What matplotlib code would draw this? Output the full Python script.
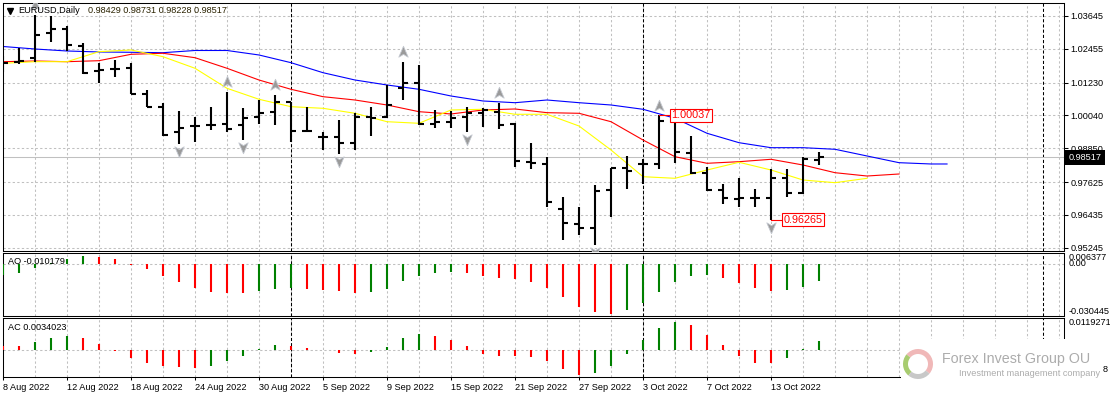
import matplotlib
matplotlib.use("Agg")
import matplotlib.pyplot as plt
import matplotlib.patches as mpatch
from matplotlib.lines import Line2D
from matplotlib.path import Path
import numpy as np

# ---- data (8 Aug - 18 Oct 2022) ----
opens = [1.0169, 1.0198, 1.0212, 1.0303, 1.0317, 1.0256, 1.0165, 1.0172, 1.0176, 1.0082,
         1.0035, 0.9944, 0.9966, 0.9969, 0.9973, 0.9969, 0.9998, 1.0016, 1.0053, 0.9948,
         0.9926, 0.9926, 0.9904, 0.9998, 0.9998, 1.0103, 1.0122, 0.9973, 0.9980, 0.9998,
         1.0013, 1.0016, 0.9973, 0.9835, 0.9828, 0.9665, 0.9610, 0.9596, 0.9734, 0.9813,
         0.9828, 0.9828, 0.9984, 0.9868, 0.9795, 0.9734, 0.9701, 0.9705, 0.9705, 0.9777,
         0.9723, 0.98429]
highs = [1.0220, 1.0249, 1.0368, 1.0365, 1.0328, 1.0267, 1.0194, 1.0205, 1.0194, 1.0096,
         1.0049, 1.0020, 0.9998, 1.0035, 1.0089, 1.0031, 1.0060, 1.0078, 1.0053, 1.0035,
         0.9944, 0.9987, 1.0013, 1.0035, 1.0114, 1.0198, 1.0187, 1.0024, 1.0020, 1.0035,
         1.0031, 1.0049, 0.9977, 0.9904, 0.9853, 0.9708, 0.9672, 0.9752, 0.9813, 0.9857,
         0.9846, 1.00037, 0.9998, 0.9929, 0.9817, 0.9755, 0.9777, 0.9737, 0.9810, 0.9810,
         0.9853, 0.98731]
lows = [1.0161, 1.0191, 1.0198, 1.0270, 1.0238, 1.0154, 1.0122, 1.0143, 1.0082, 1.0035,
        0.9929, 0.9900, 0.9908, 0.9951, 0.9944, 0.9915, 0.9973, 0.9969, 0.9908, 0.9944,
        0.9879, 0.9864, 0.9879, 0.9929, 0.9995, 1.0060, 0.9969, 0.9958, 0.9958, 0.9944,
        0.9962, 0.9955, 0.9817, 0.9810, 0.9672, 0.9552, 0.9570, 0.9534, 0.9636, 0.9737,
        0.9755, 0.9810, 0.9831, 0.9792, 0.9730, 0.9683, 0.9672, 0.9672, 0.96265, 0.9708,
        0.9719, 0.98228]
closes = [1.0194, 1.0201, 1.0296, 1.0317, 1.0259, 1.0158, 1.0169, 1.0172, 1.0082, 1.0035,
          0.9933, 0.9958, 0.9966, 0.9969, 0.9955, 0.9995, 1.0013, 1.0053, 0.9948, 0.9948,
          0.9926, 0.9904, 0.9998, 0.9995, 1.0042, 1.0122, 0.9973, 0.9980, 0.9995, 1.0013,
          1.0024, 0.9969, 0.9839, 0.9831, 0.9690, 0.9614, 0.9596, 0.9730, 0.9813, 0.9802,
          0.9828, 0.9984, 0.9871, 0.9795, 0.9734, 0.9705, 0.9705, 0.9705, 0.9777, 0.9723,
          0.9846, 0.98517]

# alligator lines, sampled every second bar (shifted into the future)
jaw_idx = list(range(0, 60, 2)) + [59]
jaw = [1.02539, 1.02448, 1.02376, 1.02340, 1.02329, 1.02314, 1.02394, 1.02394, 1.02231, 1.01952,
       1.01589, 1.01324, 1.01143, 1.00987, 1.00744, 1.00563, 1.00501, 1.00599, 1.00501, 1.00418,
       1.00262, 0.99936, 0.99392, 0.99051, 0.98870, 0.98870, 0.98812, 0.98569, 0.98326, 0.98279,
       0.98279]
teeth_idx = list(range(0, 57, 2))
teeth = [1.01988, 1.02013, 1.01988, 1.02024, 1.02256, 1.02293, 1.02133, 1.01749, 1.01324, 1.00987,
         1.00719, 1.00599, 1.00418, 1.00175, 1.00092, 1.00237, 1.00273, 1.00139, 1.00117, 0.99812,
         0.99149, 0.98543, 0.98304, 0.98362, 0.98449, 0.98242, 0.97963, 0.97843, 0.97916]
lips_idx = list(range(0, 55, 2))
lips = [1.01930, 1.01988, 1.01988, 1.02351, 1.02412, 1.02169, 1.01749, 1.01023, 1.00625, 1.00356,
        1.00298, 1.00117, 0.99812, 0.99754, 1.00237, 1.00262, 1.00081, 1.00081, 0.99656, 0.98786,
        0.97818, 0.97760, 0.98061, 0.98340, 0.98061, 0.97698, 0.97601, 0.97760]

fractal_up = [2, 14, 17, 25, 31, 41]
fractal_down = [11, 15, 21, 29, 37, 48]
marked_high = 41
marked_low = 48

ao = [-0.0064, -0.0054, -0.0023, 0.0003, 0.0027, 0.0047, 0.0043, 0.0029, -0.0006, -0.0031,
      -0.0070, -0.0103, -0.0139, -0.0162, -0.0168, -0.0169, -0.0156, -0.0144, -0.0143, -0.0145,
      -0.0152, -0.0158, -0.0168, -0.0162, -0.0144, -0.0098, -0.0068, -0.0051, -0.0045, -0.0051,
      -0.0068, -0.0080, -0.0086, -0.0103, -0.0139, -0.0191, -0.0250, -0.0279, -0.0291, -0.0267,
      -0.0226, -0.0162, -0.0103, -0.0068, -0.0067, -0.0080, -0.0109, -0.0139, -0.0156, -0.0154,
      -0.0133, -0.010179]
ac = [0.0015, 0.0014, 0.0030, 0.0045, 0.0053, 0.0045, 0.0023, -0.0003, -0.0030, -0.0048,
      -0.0060, -0.0064, -0.0068, -0.0060, -0.0041, -0.0023, 0.0004, 0.0019, 0.0015, 0.0008,
      0.0001, -0.0011, -0.0015, -0.0008, 0.0011, 0.0045, 0.0060, 0.0053, 0.0038, 0.0015,
      -0.0015, -0.0023, -0.0024, -0.0026, -0.0041, -0.0071, -0.0094, -0.0087, -0.0060, -0.0015,
      0.0038, 0.0083, 0.0105, 0.0094, 0.0056, 0.0019, -0.0023, -0.0049, -0.0050, -0.0030,
      0.0004, 0.0034023]
ao_first_up = True
ac_first_up = False

price_ticks = [1.03645, 1.02455, 1.01230, 1.00040, 0.98850, 0.97625, 0.96435, 0.95245]
ao_range = (-0.030445, 0.006377)
ac_range = (-0.010158, 0.0119271)
date_idx = [0, 4, 8, 12, 16, 20, 24, 28, 32, 36, 40, 44, 48]
date_labels = ["8 Aug 2022", "12 Aug 2022", "18 Aug 2022", "24 Aug 2022", "30 Aug 2022",
               "5 Sep 2022", "9 Sep 2022", "15 Sep 2022", "21 Sep 2022", "27 Sep 2022",
               "3 Oct 2022", "7 Oct 2022", "13 Oct 2022"]
month_seps = [18, 40, 65]

# ---- figure ----
W, H = 1110, 398
plt.rcParams['font.family'] = ['Liberation Sans', 'DejaVu Sans']
plt.rcParams['font.size'] = 6.6

fig = plt.figure(figsize=(W / 100, H / 100), dpi=100)


def px_axes(x0, y0, x1, y1):
    return fig.add_axes([x0 / W, 1 - y1 / H, (x1 - x0) / W, (y1 - y0) / H])


def px_text(x, y, s, **kw):
    return fig.text(x / W, 1 - y / H, s, **kw)


ax = px_axes(2.5, 2.5, 1064, 251)
ax_ao = px_axes(2.5, 253, 1064, 316)
ax_ac = px_axes(2.5, 318.3, 1064, 377)

XLIM = (-0.03, 66.31)
GRID = dict(colors='#c0c0c0', linestyles=(0, (2.2, 2.2)), lw=0.75, zorder=0)
SEP = dict(colors='black', linestyles=(0, (3, 2)), lw=0.75, zorder=1)

ax.set_ylim(0.95124, 1.04134)
ax_ao.set_ylim(*ao_range)
ax_ac.set_ylim(*ac_range)

for a in (ax, ax_ao, ax_ac):
    a.set_xlim(*XLIM)
    for s in a.spines.values():
        s.set_linewidth(0.75)
        s.set_color('black')
    lo, hi = a.get_ylim()
    a.vlines(np.arange(0, 67, 2), lo, hi, **GRID)
    a.vlines(month_seps, lo, hi, **SEP)
    a.set_xticks([])
    a.set_yticks([])

# main price panel
idx = np.arange(len(opens))
ax.hlines(price_ticks, *XLIM, **GRID)
ax.axhline(closes[-1], color='#c0c0c0', lw=0.75, zorder=1)

ax.plot(jaw_idx, jaw, color='#0000ff', lw=0.8, zorder=2)
ax.plot(teeth_idx, teeth, color='#ff0000', lw=0.8, zorder=2)
ax.plot(lips_idx, lips, color='#ffff00', lw=0.8, zorder=2)

BAR = dict(colors='black', lw=1.5, zorder=3, capstyle='butt')
ax.vlines(idx, lows, highs, **BAR)
ax.hlines(opens, idx - 0.33, idx, **BAR)
ax.hlines(closes, idx, idx + 0.33, **BAR)

up_arrow = Path([(0, 1), (0.75, -0.75), (0, -0.3), (-0.75, -0.75), (0, 1)],
                [Path.MOVETO, Path.LINETO, Path.LINETO, Path.LINETO, Path.CLOSEPOLY])
down_arrow = Path([(0, -1), (0.75, 0.75), (0, 0.3), (-0.75, 0.75), (0, -1)],
                  [Path.MOVETO, Path.LINETO, Path.LINETO, Path.LINETO, Path.CLOSEPOLY])
ax.plot(fractal_up, [highs[i] + 0.0036 for i in fractal_up], ls='none', marker=up_arrow,
        ms=9, mfc='#9a9a9a', mec='#c4c8d0', mew=0.6, zorder=4, clip_on=True)
ax.plot(fractal_down, [lows[i] - 0.0026 for i in fractal_down], ls='none', marker=down_arrow,
        ms=9, mfc='#9a9a9a', mec='#c4c8d0', mew=0.6, zorder=4, clip_on=True)

for i, val in ((marked_high, highs[marked_high]), (marked_low, lows[marked_low])):
    ax.plot([i, i + 0.7], [val, val], color='#ff0000', lw=0.8, zorder=4)
    ax.text(i + 0.76, val, f"{val:.5f}", color='#ff0000', fontsize=7.8, ha='left',
            va='center', zorder=5,
            bbox=dict(boxstyle='square,pad=0.12', fc='white', ec='#ff0000', lw=0.8))

ax.yaxis.tick_right()
ax.set_yticks(price_ticks)
ax.set_yticklabels([f"{p:.5f}" for p in price_ticks])
ax.tick_params(axis='y', length=3, width=0.75, pad=1.5, labelsize=6.6)
ax.text(1.0043, closes[-1], f"{closes[-1]:.5f}", transform=ax.get_yaxis_transform(),
        color='white', ha='left', va='center', fontsize=6.6, zorder=6, clip_on=False,
        bbox=dict(boxstyle='square,pad=0.35', fc='black', ec='none'))

# header
fig.add_artist(Line2D([10 / W], [1 - 10.5 / H], marker='v', ms=4.5, color='black',
                      transform=fig.transFigure))
px_text(18, 10.7, "EURUSD,Daily", va='center', ha='left')
px_text(88, 10.7, f"{opens[-1]:.5f} {highs[-1]:.5f} {lows[-1]:.5f} {closes[-1]:.5f}",
        va='center', ha='left', color='#2a2200')

# AO panel
ao_up = np.r_[ao_first_up, np.diff(ao) > 0]
ax_ao.axhline(0, color='#c0c0c0', lw=0.75, ls=(0, (2.2, 2.2)), zorder=0)
ax_ao.vlines(idx, 0, ao, colors=np.where(ao_up, '#008000', '#ff0000'), lw=1.5, zorder=3)
px_text(7.5, 261.5, f"AO {ao[-1]:.6f}", va='center', ha='left')
t = ax_ao.get_yaxis_transform()
rx = 1 + 4.5 / 1061.5
ax_ao.text(rx, ao_range[1], f"{ao_range[1]:.6f}", transform=t, va='top', ha='left', clip_on=False)
ax_ao.text(rx, 0, "0.00", transform=t, va='center', ha='left', clip_on=False)
ax_ao.text(rx, ao_range[0], f"{ao_range[0]:.6f}", transform=t, va='bottom', ha='left',
           clip_on=False)

# AC panel
ac_up = np.r_[ac_first_up, np.diff(ac) > 0]
ax_ac.axhline(0, color='#c0c0c0', lw=0.75, ls=(0, (2.2, 2.2)), zorder=0)
ax_ac.vlines(idx, 0, ac, colors=np.where(ac_up, '#008000', '#ff0000'), lw=1.5, zorder=3)
px_text(7.5, 327.5, f"AC {ac[-1]:.7f}", va='center', ha='left')
t = ax_ac.get_yaxis_transform()
ax_ac.text(rx, ac_range[1], f"{ac_range[1]:.7f}", transform=t, va='top', ha='left', clip_on=False)
# only the last digit of the lower AC label peeks out from under the watermark
px_text(1103, 369, f"{ac_range[0]:.6f}"[-1], va='center', ha='left')

ax_ac.set_xticks(date_idx)
ax_ac.set_xticklabels(date_labels, ha='left')
ax_ac.tick_params(axis='x', length=2.5, width=0.75, pad=1.5, labelsize=6.6)

# watermark
fig.add_artist(mpatch.Rectangle((901 / W, 1 - 388 / H), 201 / W, 49 / H, transform=fig.transFigure,
                                fc='white', ec='none', zorder=5))
cx, cy = 9.18, (H - 364) / 100
for t1, t2, col in ((-40, 140, '#f0b8b8'), (140, 230, '#a8cc70'), (230, 320, '#c8c8c8')):
    fig.add_artist(mpatch.Wedge((cx, cy), 0.15, t1, t2, width=0.05, fc=col, ec='none',
                                transform=fig.dpi_scale_trans, zorder=6))
px_text(942, 359, "Forex Invest Group OU", fontsize=10.3, color='#acacac', ha='left',
        va='center', zorder=7)
px_text(959, 373, "Investment management company", fontsize=6.6, color='#acacac',
        ha='left', va='center', zorder=7)

fig.savefig("out.png", dpi=100)
